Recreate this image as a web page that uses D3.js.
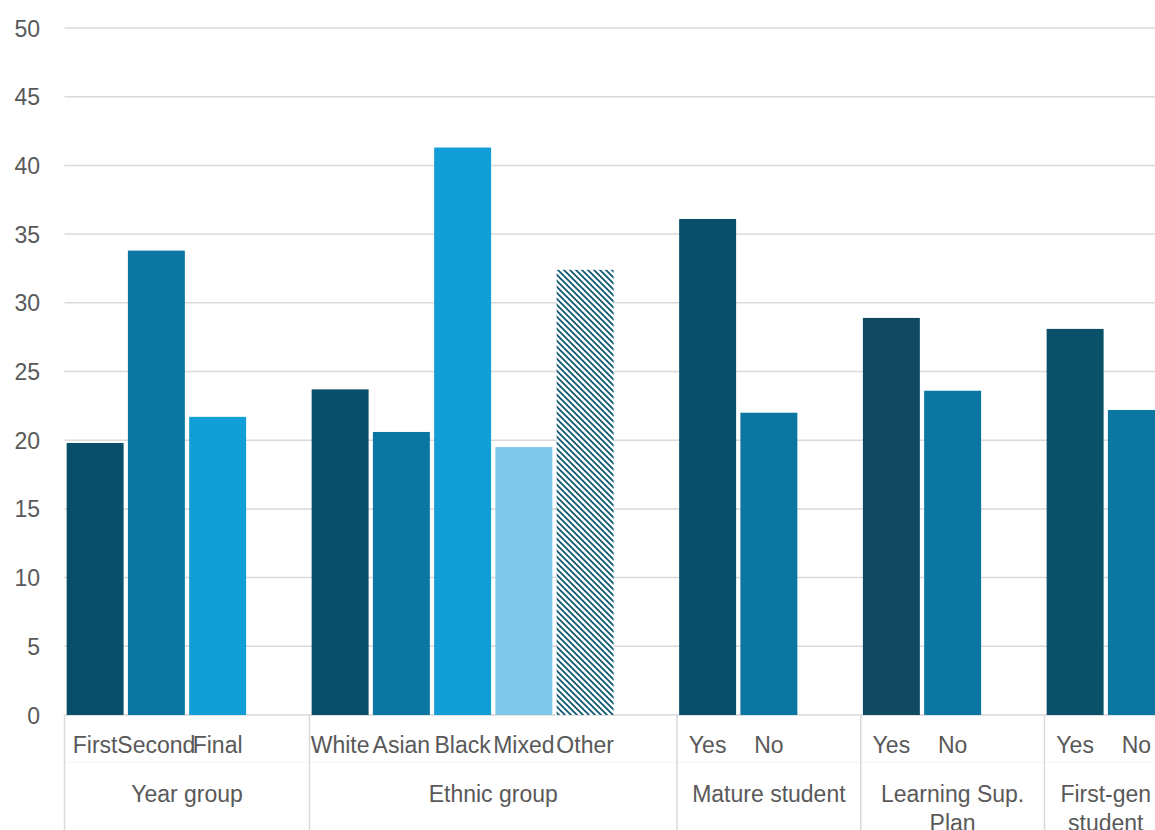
<!DOCTYPE html>
<html>
<head>
<meta charset="utf-8">
<script src="https://cdn.jsdelivr.net/npm/d3@7"></script>
<style>
  html, body { margin: 0; padding: 0; background: #fff; overflow: hidden; }
  svg { display: block; }
  text { font-family: "Liberation Sans", Arial, sans-serif; fill: #595959; }
</style>
</head>
<body>
<svg id="chart" width="1155" height="830"></svg>
<script>
// Survey groups and the sub-categories within each
const groupNames = ["Year group", "Ethnic group", "Mature student", "Learning Sup. Plan", "First-gen student"];
const categoryLabels = ["First", "Second", "Final", "White", "Asian", "Black", "Mixed", "Other", "Yes", "No", "Yes", "No", "Yes", "No"];
const categoryGroup = [0, 0, 0, 1, 1, 1, 1, 1, 2, 2, 3, 3, 4, 4];
const values = [19.8, 33.8, 21.7, 23.7, 20.6, 41.3, 19.5, 32.4, 36.1, 22.0, 28.9, 23.6, 28.1, 22.2];
const yTicks = [0, 5, 10, 15, 20, 25, 30, 35, 40, 45, 50];

// Bar fills (the "Other" bar uses a hatch pattern)
const fills = ["#0a4f6a", "#0c76a2", "#129fd8", "#0a4f6a", "#0c76a2", "#129fd8", "#80c9ea", "url(#hatch)",
               "#0a4f6a", "#0c76a2", "#124962", "#0c76a2", "#0a5069", "#0c76a2"];

const FONT = 23;
const svg = d3.select("#chart");

const defs = svg.append("defs");
const pat = defs.append("pattern")
  .attr("id", "hatch").attr("patternUnits", "userSpaceOnUse")
  .attr("width", 6).attr("height", 6);
pat.append("rect").attr("width", 6).attr("height", 6).attr("fill", "#fff");
pat.append("path").attr("d", "M-1,-1 L7,7 M-4,2 L2,8 M4,-2 L10,4")
  .attr("stroke", "#0b5471").attr("stroke-width", 1.7);

// Build slots: each category gets a slot, with one empty slot between groups
const slots = [];
const catSlot = [];
categoryGroup.forEach((g, i) => {
  if (i > 0 && categoryGroup[i - 1] !== g) slots.push("gap" + g);
  catSlot.push("c" + i);
  slots.push("c" + i);
});

const plotLeft = 64.5, plotRight = 1167, plotTop = 28, plotBottom = 715;

const x = d3.scaleBand().domain(slots).range([plotLeft, plotRight])
  .paddingInner(0.07).paddingOuter(0.035);
const y = d3.scaleLinear().domain([0, 50]).range([plotBottom, plotTop]);

// Gridlines
svg.append("g").selectAll("line").data(yTicks).join("line")
  .attr("x1", plotLeft).attr("x2", 1155)
  .attr("y1", d => y(d)).attr("y2", d => y(d))
  .attr("stroke", "#d9d9d9").attr("stroke-width", 1.5);

// Y axis labels
const yAxis = d3.axisLeft(y).tickValues(yTicks).tickSize(0).tickPadding(0);
const yg = svg.append("g").attr("transform", "translate(40,0)").call(yAxis);
yg.select(".domain").remove();
yg.selectAll("text").attr("font-size", FONT).attr("fill", "#595959")
  .style("font-family", "'Liberation Sans', Arial, sans-serif").attr("dy", "0.35em");

// Bars
svg.append("g").selectAll("rect").data(values).join("rect")
  .attr("x", (d, i) => x(catSlot[i]))
  .attr("width", x.bandwidth())
  .attr("y", d => y(d))
  .attr("height", d => y(0) - y(d))
  .attr("fill", (d, i) => fills[i]);

// Faint divider within the label area
svg.append("line").attr("x1", plotLeft).attr("x2", 1155).attr("y1", 762).attr("y2", 762)
  .attr("stroke", "#f6f6f6").attr("stroke-width", 1);

// Group boundaries
const step = x.step();
const groupBounds = groupNames.map((name, g) => {
  const idx = categoryGroup.map((cg, i) => cg === g ? i : -1).filter(i => i >= 0);
  const first = x(catSlot[idx[0]]) - x.paddingInner() * step / 2;
  let last = x(catSlot[idx[idx.length - 1]]) + x.bandwidth() + x.paddingInner() * step / 2;
  if (g < groupNames.length - 1) last += step; // include trailing gap slot
  return { name, x0: first, x1: last };
});

const sepX = [plotLeft].concat(groupBounds.map(b => b.x1));
svg.append("g").selectAll("line").data(sepX).join("line")
  .attr("x1", d => d).attr("x2", d => d).attr("y1", plotBottom).attr("y2", 830)
  .attr("stroke", "#d9d9d9").attr("stroke-width", 1.5);

// Category labels
svg.append("g").selectAll("text").data(categoryLabels).join("text")
  .attr("x", (d, i) => x(catSlot[i]) + x.bandwidth() / 2)
  .attr("y", 753)
  .attr("text-anchor", "middle")
  .attr("font-size", FONT)
  .text(d => d);

// Group labels (wrap long names onto two lines)
const gl = svg.append("g").selectAll("text").data(groupBounds).join("text")
  .attr("text-anchor", "middle")
  .attr("font-size", FONT);
gl.each(function(b) {
  const t = d3.select(this);
  const cx = (b.x0 + b.x1) / 2;
  const words = b.name.split(" ");
  const lines = [];
  const tmp = svg.append("text").attr("font-size", FONT);
  let cur = "";
  words.forEach(w => {
    const test = cur ? cur + " " + w : w;
    tmp.text(test);
    if (tmp.node().getComputedTextLength() > (b.x1 - b.x0) - 12 && cur) {
      lines.push(cur); cur = w;
    } else cur = test;
  });
  lines.push(cur);
  tmp.remove();
  lines.forEach((ln, k) => {
    t.append("tspan").attr("x", cx).attr("y", 802 + k * 29).text(ln);
  });
});
</script>
</body>
</html>
